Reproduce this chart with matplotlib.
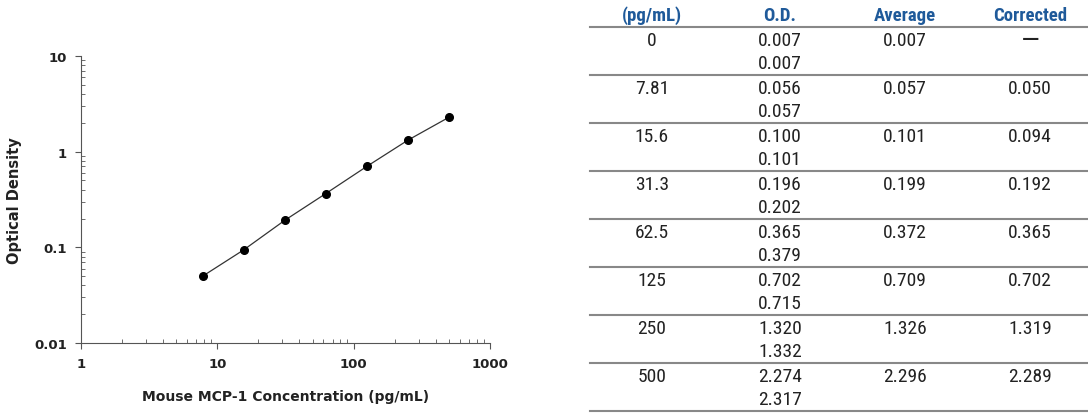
import matplotlib.pyplot as plt
from matplotlib.lines import Line2D
from matplotlib.ticker import LogLocator, FixedLocator, NullFormatter
from matplotlib import font_manager

# standard curve data
conc = [7.81, 15.6, 31.3, 62.5, 125, 250, 500]
corrected = [0.050, 0.094, 0.192, 0.365, 0.702, 1.319, 2.289]

# table data
tab_header = ["(pg/mL)", "O.D.", "Average", "Corrected"]
tab_conc = ["0", "7.81", "15.6", "31.3", "62.5", "125", "250", "500"]
tab_od1 = ["0.007", "0.056", "0.100", "0.196", "0.365", "0.702", "1.320", "2.274"]
tab_od2 = ["0.007", "0.057", "0.101", "0.202", "0.379", "0.715", "1.332", "2.317"]
tab_avg = ["0.007", "0.057", "0.101", "0.199", "0.372", "0.709", "1.326", "2.296"]
tab_corr = ["\u2014", "0.050", "0.094", "0.192", "0.365", "0.702", "1.319", "2.289"]

W, H = 1088, 414
fig = plt.figure(figsize=(W / 100, H / 100), dpi=100)

ax = fig.add_axes([81 / W, 1 - 344 / H, (490 - 81) / W, (344 - 57) / H])
ax.plot(conc, corrected, color='#333333', lw=0.9, marker='o', ms=5.5,
        mfc='black', mec='black')
ax.set_xscale('log')
ax.set_yscale('log')
ax.set_xlim(1, 1000)
ax.set_ylim(0.01, 10)
for s in ['top', 'right']:
    ax.spines[s].set_visible(False)
for s in ['left', 'bottom']:
    ax.spines[s].set_color('#555555')
    ax.spines[s].set_linewidth(0.8)
ax.xaxis.set_major_locator(FixedLocator([1, 10, 100, 1000]))
ax.yaxis.set_major_locator(FixedLocator([0.01, 0.1, 1, 10]))
ax.set_xticklabels(['1', '10', '100', '1000'])
ax.set_yticklabels(['0.01', '0.1', '1', '10'])
ax.xaxis.set_minor_locator(LogLocator(base=10, subs=range(2, 10)))
ax.yaxis.set_minor_locator(LogLocator(base=10, subs=range(2, 10)))
ax.xaxis.set_minor_formatter(NullFormatter())
ax.yaxis.set_minor_formatter(NullFormatter())
ax.tick_params(which='major', direction='out', length=4, width=0.8,
               color='#555555', labelsize=9.5, pad=6)
ax.tick_params(which='minor', direction='in', length=3, width=0.6,
               color='#555555')
for lab in ax.get_xticklabels() + ax.get_yticklabels():
    lab.set_fontweight('bold')
    lab.set_color('#222222')
ax.set_xlabel('Mouse MCP-1 Concentration (pg/mL)', fontsize=10,
              fontweight='bold', color='#222222', labelpad=14)
ax.set_ylabel('Optical Density', fontsize=10.5, fontweight='bold',
              color='#222222', labelpad=9)

# pick a narrow face for the table if one is installed
names = {f.name for f in font_manager.fontManager.ttflist}
narrow = 'DejaVu Sans'
for cand in ['Liberation Sans Narrow', 'Roboto Condensed', 'Open Sans Condensed',
             'Noto Sans Condensed', 'DejaVu Sans Condensed']:
    if cand in names:
        narrow = cand
        break
tfont = dict(family=narrow, fontstretch='condensed')

col_x = [652, 780, 905, 1030]
for x, h in zip(col_x, tab_header):
    fig.text(x / W, 1 - 16 / H, h, ha='center', va='center',
             fontsize=13.5, fontweight='bold', color='#1f5a9a', **tfont)

row_top = 28
row_h = 48
line_y = [row_top + i * row_h for i in range(len(tab_conc) + 1)]
for y in line_y:
    fig.add_artist(Line2D([590 / W, 1], [1 - y / H, 1 - y / H],
                          color='#888888', lw=1.5, transform=fig.transFigure))

for i in range(len(tab_conc)):
    y1 = row_top + i * row_h + 13
    y2 = y1 + 23
    vals = [tab_conc[i], tab_od1[i], tab_avg[i], tab_corr[i]]
    for j, (x, v) in enumerate(zip(col_x, vals)):
        size = 20 if v == "\u2014" else 14
        fig.text(x / W, 1 - y1 / H, v, ha='center', va='center',
                 fontsize=size, color='#222222', **tfont)
    fig.text(col_x[1] / W, 1 - y2 / H, tab_od2[i], ha='center', va='center',
             fontsize=14, color='#222222', **tfont)

fig.savefig('out.png', dpi=100)
